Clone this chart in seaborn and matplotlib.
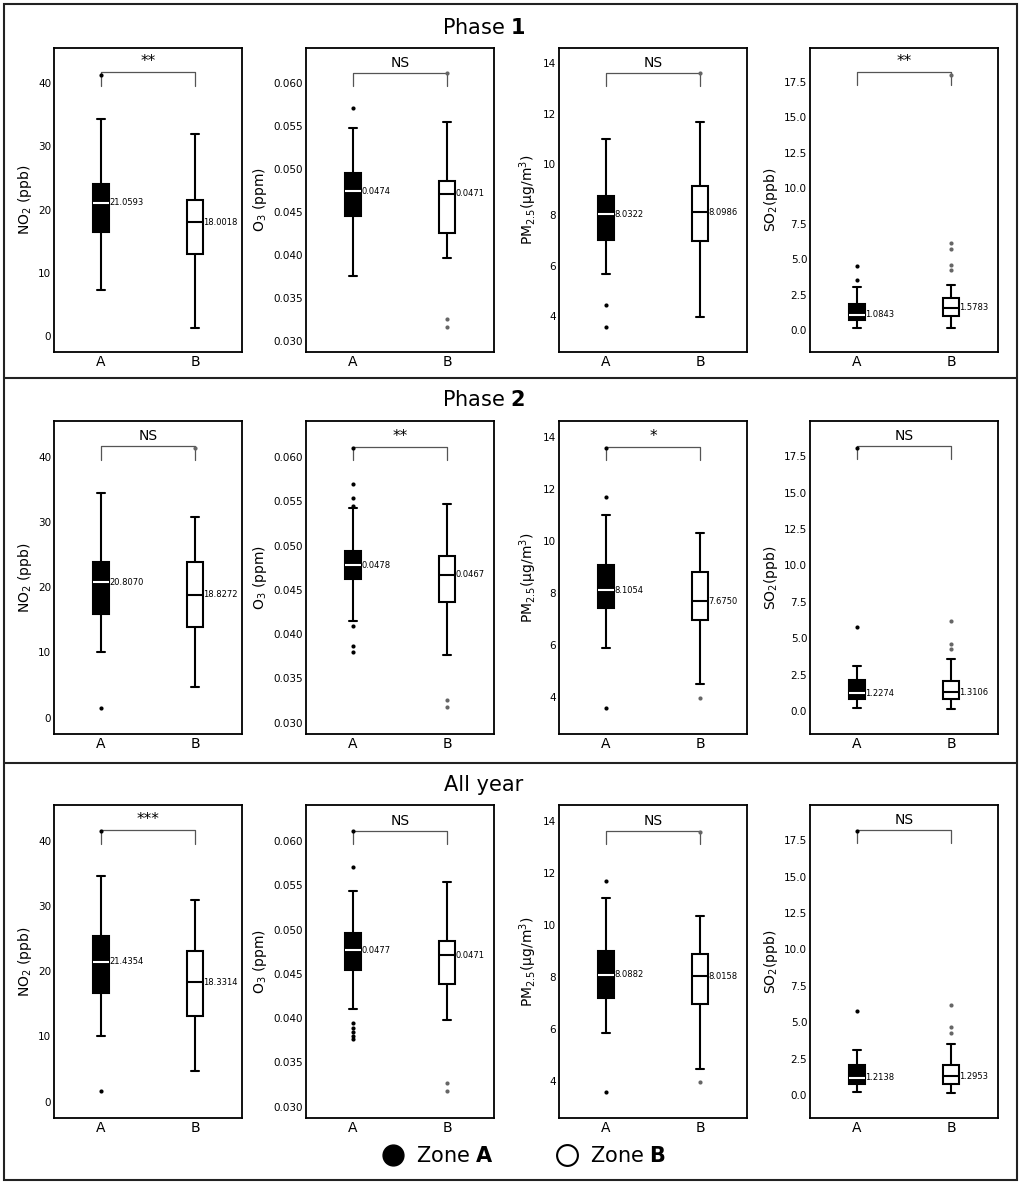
import matplotlib
matplotlib.use("Agg")
import matplotlib.pyplot as plt
from matplotlib.lines import Line2D
from matplotlib.patches import Rectangle
from matplotlib.ticker import FormatStrFormatter
import pandas as pd
import seaborn as sns

sns.set_theme(style="white")
plt.rcParams["font.family"] = ["DejaVu Sans"]
plt.rcParams["mathtext.fontset"] = "dejavusans"
plt.rcParams["text.color"] = "black"
plt.rcParams["axes.labelcolor"] = "black"
plt.rcParams["xtick.color"] = "black"
plt.rcParams["ytick.color"] = "black"

# ---- data: [lower whisker, Q1, median, Q3, upper whisker]
phases = ["Phase $\\mathbf{1}$", "Phase $\\mathbf{2}$", "All year"]
zones = ["A", "B"]

no2_a = [[7.3, 16.45, 21.0593, 24.0, 34.35],
         [10.1, 15.9, 20.8070, 23.85, 34.5],
         [10.15, 16.6, 21.4354, 25.4, 34.6]]
no2_a_out = [[41.3], [1.5], [1.58, 41.5]]
no2_b = [[1.35, 13.05, 18.0018, 21.55, 31.85],
         [4.7, 13.95, 18.8272, 23.9, 30.8],
         [4.7, 13.15, 18.3314, 23.1, 30.9]]
no2_b_out = [[], [41.4], []]

o3_a = [[0.0375, 0.0445, 0.0474, 0.0495, 0.0548],
        [0.0415, 0.0462, 0.0478, 0.0494, 0.0543],
        [0.0410, 0.0454, 0.0477, 0.0496, 0.0544]]
o3_a_out = [[0.0571],
            [0.0570, 0.0554, 0.0545, 0.0409, 0.0387, 0.0380, 0.0611],
            [0.0571, 0.0612, 0.0394, 0.0389, 0.0384, 0.0380, 0.0376]]
o3_b = [[0.0397, 0.0426, 0.0471, 0.0486, 0.0555],
        [0.0376, 0.0436, 0.0467, 0.0488, 0.0547],
        [0.0398, 0.0439, 0.0471, 0.0487, 0.0554]]
o3_b_out = [[0.0326, 0.0316, 0.0612], [0.0326, 0.0317], [0.0327, 0.0318]]

pm_a = [[5.65, 7.0, 8.0322, 8.75, 11.0],
        [5.9, 7.43, 8.1054, 9.07, 11.0],
        [5.84, 7.2, 8.0882, 8.98, 11.02]]
pm_a_out = [[4.45, 3.55], [11.7, 3.58, 13.58], [11.67, 3.59]]
pm_b = [[3.97, 6.97, 8.0986, 9.15, 11.67],
        [4.49, 6.95, 7.6750, 8.82, 10.3],
        [4.47, 6.96, 8.0158, 8.87, 10.32]]
pm_b_out = [[13.6], [3.98], [3.97, 13.58]]

so2_a = [[0.13, 0.72, 1.0843, 1.82, 3.02],
         [0.21, 0.82, 1.2274, 2.15, 3.1],
         [0.2, 0.8, 1.2138, 2.05, 3.08]]
so2_a_out = [[4.55, 3.52], [5.76, 18.07], [5.75, 18.15]]
so2_b = [[0.13, 0.96, 1.5783, 2.25, 3.19],
         [0.18, 0.82, 1.3106, 2.05, 3.56],
         [0.18, 0.8, 1.2953, 2.1, 3.55]]
so2_b_out = [[6.17, 5.73, 4.6, 4.22, 18.03], [6.2, 4.65, 4.3], [6.22, 4.66, 4.28]]

significance = [["**", "NS", "NS", "**"],
                ["NS", "**", "*", "NS"],
                ["***", "NS", "NS", "NS"]]

ylabels = ["NO$_2$ (ppb)", "O$_3$ (ppm)", "PM$_{2.5}$(μg/m$^3$)", "SO$_2$(ppb)"]
yticks = [[0, 10, 20, 30, 40],
          [0.030, 0.035, 0.040, 0.045, 0.050, 0.055, 0.060],
          [4, 6, 8, 10, 12, 14],
          [0.0, 2.5, 5.0, 7.5, 10.0, 12.5, 15.0, 17.5]]
ylims = [(-2.5, 45.5), (0.0287, 0.0641), (2.58, 14.6), (-1.55, 19.9)]
tick_fmt = ["%.0f", "%.3f", "%.0f", "%.1f"]
brackets = [(39.5, 41.7), (0.0597, 0.0612), (13.1, 13.62), (17.3, 18.2)]

boxes = [(no2_a, no2_a_out, no2_b, no2_b_out),
         (o3_a, o3_a_out, o3_b, o3_b_out),
         (pm_a, pm_a_out, pm_b, pm_b_out),
         (so2_a, so2_a_out, so2_b, so2_b_out)]

# ---- layout (pixels of the 1021x1184 canvas)
W, H = 1021, 1184
rows_px = [(48, 352), (421, 734), (805, 1118)]
cols_px = [(54, 242), (306, 494), (559, 747), (810, 998)]
title_y = [28, 400, 785]


def long_df(values, zone):
    return pd.DataFrame({"zone": [zone] * len(values), "value": values})


fig = plt.figure(figsize=(W / 100, H / 100), dpi=100)

for r in range(3):
    fig.text(484 / W, 1 - title_y[r] / H, phases[r], ha="center", va="center", fontsize=15)
    for c in range(4):
        x0, x1 = cols_px[c]
        y0, y1 = rows_px[r]
        ax = fig.add_axes([x0 / W, 1 - y1 / H, (x1 - x0) / W, (y1 - y0) / H])
        a_box, a_out, b_box, b_out = boxes[c]
        styles = [("A", a_box, a_out, "black", "white", "black"),
                  ("B", b_box, b_out, "white", "black", "#666666")]
        for zone, bx, out, fill, medc, flc in styles:
            sns.boxplot(data=long_df(bx[r], zone), x="zone", y="value", order=zones,
                        color=fill, saturation=1, width=0.16, whis=(0, 100),
                        linecolor="black", linewidth=1.5,
                        medianprops={"color": medc, "linewidth": 1.5}, ax=ax)
            if out[r]:
                sns.stripplot(data=long_df(out[r], zone), x="zone", y="value", order=zones,
                              jitter=False, color=flc, size=3, ax=ax)
            med = bx[r][2]
            ax.text(zones.index(zone) + 0.09, med, f"{med:.4f}", fontsize=6, va="center")

        lo, hi = brackets[c]
        ax.plot([0, 0, 1, 1], [lo, hi, hi, lo], color="#555555", lw=0.9)
        ax.annotate(significance[r][c], xy=(0.5, hi), xytext=(0, 2), textcoords="offset points",
                    ha="center", va="bottom", fontsize=11 if "*" in significance[r][c] else 10)

        ax.set_xlim(-0.5, 1.5)
        ax.set_ylim(*ylims[c])
        ax.set_yticks(yticks[c])
        ax.yaxis.set_major_formatter(FormatStrFormatter(tick_fmt[c]))
        ax.set_xlabel("")
        ax.set_ylabel(ylabels[c], fontsize=10, labelpad=3)
        ax.tick_params(axis="both", length=0, pad=2)
        ax.tick_params(axis="y", labelsize=7.5)
        ax.tick_params(axis="x", labelsize=10)
        for sp in ax.spines.values():
            sp.set_color("black")
            sp.set_linewidth(1.3)

# panel frames
fig.add_artist(Rectangle((4 / W, 1 - 1180 / H), 1013 / W, 1176 / H, transform=fig.transFigure,
                         fill=False, lw=1.5, ec="#222222"))
for yp in [378, 763]:
    fig.add_artist(Line2D([4 / W, 1017 / W], [1 - yp / H, 1 - yp / H], transform=fig.transFigure,
                          lw=1.5, color="#222222"))

handles = [Line2D([], [], ls="", marker="o", ms=15, mfc="black", mec="black"),
           Line2D([], [], ls="", marker="o", ms=15, mfc="white", mec="black", mew=1.5)]
fig.legend(handles, ["Zone $\\mathbf{A}$", "Zone $\\mathbf{B}$"], loc="center",
           bbox_to_anchor=(519 / W, 1 - 1156 / H), ncol=2, frameon=False, fontsize=15,
           handletextpad=0.1, columnspacing=2.5)

fig.savefig("out.png", dpi=100)
